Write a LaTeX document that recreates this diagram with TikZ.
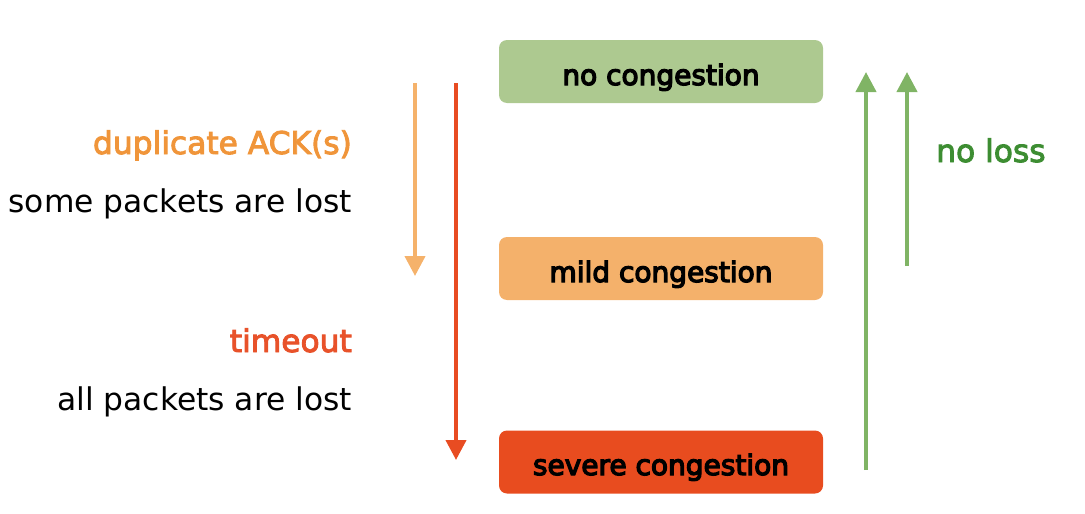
\documentclass[tikz,border=0pt]{standalone}
\usepackage{fontspec}
\setmainfont{DejaVu Sans}
\newfontfamily\semib[FakeBold=3]{DejaVu Sans}
\newfontfamily\boxfont[FakeBold=4.5]{DejaVu Sans}
\usetikzlibrary{arrows.meta}
\definecolor{boxgreen}{HTML}{ADC990}
\definecolor{boxorange}{HTML}{F4B16B}
\definecolor{boxred}{HTML}{E84C1F}
\definecolor{arrorange}{HTML}{F5B26B}
\definecolor{arrred}{HTML}{E84C22}
\definecolor{arrgreen}{HTML}{80B465}
\definecolor{txtgreen}{HTML}{3D8D32}
\definecolor{txtorange}{HTML}{F0953A}
\definecolor{txtred}{HTML}{E8522A}
\tikzset{
  statebox/.style={rounded corners=8pt, minimum width=324pt, minimum height=63pt, inner sep=0pt},
  boxtext/.style={font=\fontsize{28}{33}\selectfont\boxfont, text=black, inner sep=0pt, anchor=base},
  conn/.style={line width=4pt, -{Triangle[width=20pt,length=20pt]}},
  lbl/.style={font=\fontsize{31.3}{36}\selectfont, inner sep=0pt},
  clbl/.style={font=\fontsize{31.3}{36}\selectfont\semib, inner sep=0pt},
}
\begin{document}
\begin{tikzpicture}[x=1pt,y=-1pt]
\useasboundingbox (0,0) rectangle (1085,514);
\node[statebox, fill=boxgreen] (no) at (661,71.5) {};
\node[statebox, fill=boxorange] (mild) at (661,268.5) {};
\node[statebox, fill=boxred] (severe) at (661,462) {};
\node[boxtext] (notext) at (661,85) {no congestion};
\node[boxtext] (mildtext) at (661,282) {mild congestion};
\node[boxtext] (severetext) at (661,475) {severe congestion};
\coordinate (oa) at (415,83);
\coordinate (ob) at (415,276);
\coordinate (ra) at (456,83);
\coordinate (rb) at (456,460);
\coordinate (ga) at (866,470);
\coordinate (gb) at (866,72);
\coordinate (ha) at (907,266);
\coordinate (hb) at (907,72);
\draw[conn, arrorange] (oa) -- (ob);
\draw[conn, arrred] (ra) -- (rb);
\draw[conn, arrgreen] (ga) -- (gb);
\draw[conn, arrgreen] (ha) -- (hb);
\node[clbl, anchor=base east, text=txtorange] (dup) at (352,154) {duplicate ACK(s)};
\node[lbl, anchor=base east] (some) at (352,212) {some packets are lost};
\node[clbl, anchor=base east, text=txtred] (to) at (352,352) {timeout};
\node[lbl, anchor=base east] (all) at (352,410) {all packets are lost};
\node[clbl, anchor=base west, text=txtgreen] (nl) at (936,162) {no loss};
\end{tikzpicture}
\end{document}
